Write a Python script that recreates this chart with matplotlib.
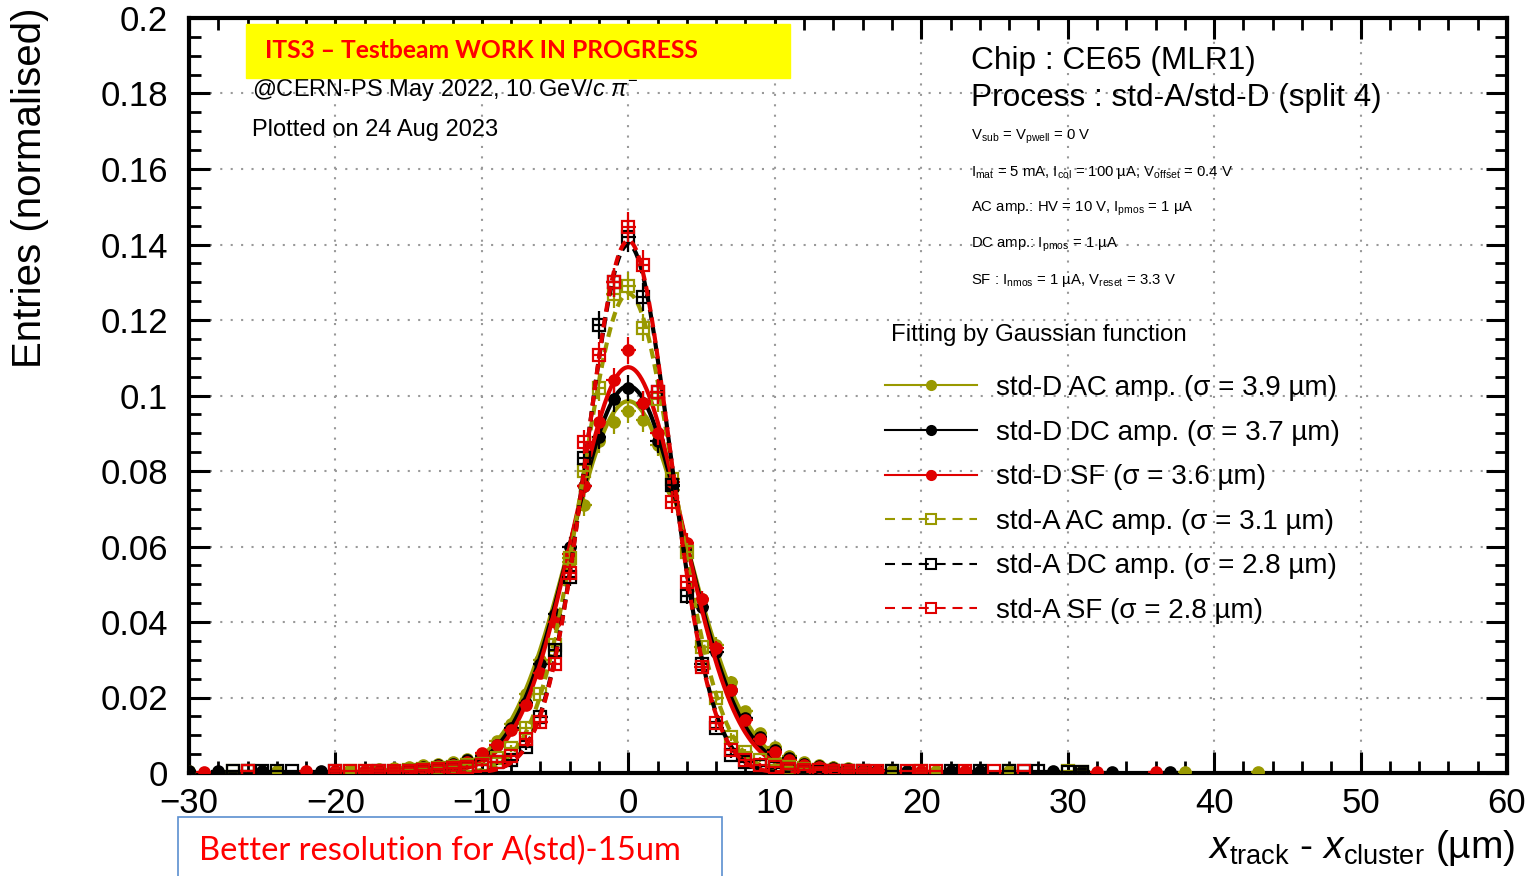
import numpy as np
import matplotlib
matplotlib.use("Agg")
import matplotlib.pyplot as plt
from matplotlib.patches import Rectangle
from matplotlib.lines import Line2D
from matplotlib.ticker import MultipleLocator, FuncFormatter

plt.rcParams['font.family'] = ['Liberation Sans', 'DejaVu Sans']
plt.rcParams['mathtext.fontset'] = 'custom'
plt.rcParams['mathtext.rm'] = 'Liberation Sans'
plt.rcParams['mathtext.it'] = 'Liberation Sans:italic'
plt.rcParams['mathtext.bf'] = 'Liberation Sans:bold'

# residual bins (um), core region
core_x = list(range(-14, 15))

# std-D (filled circles, solid fits)
d_ac = [0.0020, 0.0025, 0.0030, 0.0038, 0.0050, 0.0085, 0.0130, 0.0210, 0.0300, 0.0420,
        0.0560, 0.0710, 0.0880, 0.0930, 0.0960, 0.0935, 0.0870, 0.0750, 0.0600, 0.0460,
        0.0340, 0.0240, 0.0165, 0.0106, 0.0070, 0.0045, 0.0030, 0.0022, 0.0015]
d_dc = [0.0015, 0.0020, 0.0025, 0.0035, 0.0045, 0.0075, 0.0120, 0.0185, 0.0290, 0.0420,
        0.0600, 0.0760, 0.0890, 0.0990, 0.1020, 0.0980, 0.0880, 0.0760, 0.0600, 0.0440,
        0.0320, 0.0220, 0.0146, 0.0095, 0.0060, 0.0040, 0.0025, 0.0018, 0.0012]
d_sf = [0.0012, 0.0018, 0.0022, 0.0030, 0.0053, 0.0074, 0.0114, 0.0180, 0.0265, 0.0400,
        0.0580, 0.0760, 0.0930, 0.1040, 0.1120, 0.0980, 0.0900, 0.0770, 0.0610, 0.0460,
        0.0330, 0.0220, 0.0140, 0.0090, 0.0055, 0.0035, 0.0022, 0.0015, 0.0010]
# std-A (open squares, dashed fits)
a_ac = [0.0010, 0.0012, 0.0015, 0.0020, 0.0025, 0.0040, 0.0065, 0.0120, 0.0210, 0.0340,
        0.0570, 0.0800, 0.1020, 0.1270, 0.1290, 0.1180, 0.0990, 0.0780, 0.0585, 0.0334,
        0.0200, 0.0095, 0.0056, 0.0035, 0.0022, 0.0015, 0.0010, 0.0008, 0.0006]
a_dc = [0.0008, 0.0010, 0.0012, 0.0015, 0.0020, 0.0028, 0.0035, 0.0069, 0.0148, 0.0326,
        0.0520, 0.0834, 0.1187, 0.1300, 0.1420, 0.1260, 0.1010, 0.0763, 0.0470, 0.0290,
        0.0120, 0.0048, 0.0030, 0.0018, 0.0012, 0.0010, 0.0008, 0.0006, 0.0005]
a_sf = [0.0008, 0.0010, 0.0013, 0.0016, 0.0022, 0.0030, 0.0045, 0.0090, 0.0135, 0.0290,
        0.0530, 0.0877, 0.1107, 0.1300, 0.1446, 0.1346, 0.1010, 0.0718, 0.0506, 0.0280,
        0.0132, 0.0060, 0.0035, 0.0022, 0.0015, 0.0011, 0.0009, 0.0007, 0.0006]

# sparse far-tail bins
tail_x_d_ac = [-30, -24, -19, -17, -16, -15, 15, 16, 18, 21, 26, 38, 43]
tail_y_d_ac = [0.0004, 0.0004, 0.0008, 0.0010, 0.0012, 0.0015, 0.0012, 0.0009, 0.0006, 0.0005, 0.0004, 0.0003, 0.0003]
tail_x_d_dc = [-30, -28, -25, -21, -18, -16, -15, 15, 16, 17, 19, 22, 24, 29, 31, 33, 37]
tail_y_d_dc = [0.0004, 0.0004, 0.0004, 0.0005, 0.0006, 0.0009, 0.0011, 0.0010, 0.0008, 0.0007, 0.0005, 0.0005, 0.0004, 0.0004, 0.0004, 0.0003, 0.0003]
tail_x_d_sf = [-29, -22, -20, -18, -17, -16, -15, 15, 16, 17, 20, 23, 32, 36]
tail_y_d_sf = [0.0003, 0.0004, 0.0004, 0.0005, 0.0006, 0.0008, 0.0010, 0.0008, 0.0006, 0.0005, 0.0004, 0.0004, 0.0003, 0.0003]
tail_x_a_ac = [-27, -26, -19, -18, -16, -15, 15, 16, 18, 20, 26, 30, 31]
tail_y_a_ac = [0.0004, 0.0004, 0.0005, 0.0005, 0.0006, 0.0007, 0.0005, 0.0005, 0.0004, 0.0004, 0.0004, 0.0004, 0.0003]
tail_x_a_dc = [-27, -26, -25, -24, -23, -20, -17, -15, 15, 16, 18, 22, 24, 26, 27, 28, 30, 31]
tail_y_a_dc = [0.0004, 0.0004, 0.0004, 0.0004, 0.0004, 0.0004, 0.0005, 0.0005, 0.0004, 0.0004, 0.0004, 0.0004, 0.0004, 0.0004, 0.0004, 0.0004, 0.0003, 0.0003]
tail_x_a_sf = [-26, -20, -19, -18, -17, -16, -15, 15, 16, 17, 19, 20, 21, 23, 25, 27]
tail_y_a_sf = [0.0004, 0.0004, 0.0004, 0.0005, 0.0005, 0.0005, 0.0006, 0.0005, 0.0005, 0.0004, 0.0004, 0.0004, 0.0004, 0.0004, 0.0004, 0.0004]

# gaussian fit parameters (amplitude, mean, sigma as fitted on the histograms)
fit_amp = [0.0985, 0.1025, 0.1075, 0.1270, 0.1400, 0.1410]
fit_mean = [0.0, 0.0, 0.0, 0.0, 0.0, 0.0]
fit_sigma = [4.05, 3.88, 3.72, 3.15, 2.87, 2.85]

labels = ['std-D AC amp. (σ = 3.9 µm)', 'std-D DC amp. (σ = 3.7 µm)', 'std-D SF (σ = 3.6 µm)',
          'std-A AC amp. (σ = 3.1 µm)', 'std-A DC amp. (σ = 2.8 µm)', 'std-A SF (σ = 2.8 µm)']
n_entries = 9000  # for poisson error bars of the normalised histograms

OLIVE = '#999900'
RED = '#e00000'
colors = [OLIVE, 'black', RED, OLIVE, 'black', RED]

W, H = 1532, 876
def fx(px):
    return px / W
def fy(py):
    return 1 - py / H

fig = plt.figure(figsize=(W / 100, H / 100), dpi=100)
ax = fig.add_axes([fx(189), fy(773), fx(1507) - fx(189), fy(18) - fy(773)])

series = [(d_ac, tail_x_d_ac, tail_y_d_ac), (d_dc, tail_x_d_dc, tail_y_d_dc), (d_sf, tail_x_d_sf, tail_y_d_sf),
          (a_ac, tail_x_a_ac, tail_y_a_ac), (a_dc, tail_x_a_dc, tail_y_a_dc), (a_sf, tail_x_a_sf, tail_y_a_sf)]

xf = np.linspace(-15, 15, 600)
handles = []
for i, (core, tx, ty) in enumerate(series):
    xs = np.array(tx + core_x, dtype=float)
    ys = np.array(ty + core, dtype=float)
    err = np.sqrt(ys / n_entries)
    c = colors[i]
    is_a = i >= 3
    ax.errorbar(xs, ys, yerr=err, xerr=0.5, fmt='s' if is_a else 'o',
                ms=8.5 if is_a else 7.5, color=c, mec=c,
                mfc='none' if is_a else c, mew=1.6, elinewidth=1.6, capsize=0, zorder=3 + i)
    yfit = fit_amp[i] * np.exp(-0.5 * ((xf - fit_mean[i]) / fit_sigma[i]) ** 2)
    ax.plot(xf, yfit, color=c, lw=3, ls=(0, (2.4, 1.4)) if is_a else '-', zorder=3.5 + i)
    handles.append(Line2D([], [], color=c, lw=1.5, ls=(0, (4.8, 3.3)) if is_a else '-',
                          marker='s' if is_a else 'o', ms=7 if is_a else 6.5,
                          mfc='none' if is_a else c, mec=c, mew=1.5))

ax.set_xlim(-30, 60)
ax.set_ylim(0, 0.2)
ax.xaxis.set_major_locator(MultipleLocator(10))
ax.xaxis.set_minor_locator(MultipleLocator(2))
ax.yaxis.set_major_locator(MultipleLocator(0.02))
ax.yaxis.set_minor_locator(MultipleLocator(0.005))
ax.yaxis.set_major_formatter(FuncFormatter(lambda v, p: '%g' % round(v, 3)))
ax.tick_params(which='both', direction='in', top=True, right=True, labelsize=25)
ax.tick_params(which='major', length=15, width=2.2)
ax.tick_params(which='minor', length=8.5, width=2)
ax.tick_params(axis='x', which='major', pad=10)
ax.tick_params(axis='y', which='major', pad=15)
for s in ax.spines.values():
    s.set_linewidth(3)
ax.grid(True, which='major', color='#999999', ls=(0, (1, 4)), lw=1.5)
ax.set_axisbelow(True)

fig.text(fx(30), fy(8), 'Entries (normalised)', rotation=90, ha='center', va='top', fontsize=29)
fig.text(fx(1515), fy(848), r'$x_{\mathrm{track}}$ - $x_{\mathrm{cluster}}$ (µm)',
         ha='right', va='center', fontsize=28)

# header boxes
fig.patches.append(Rectangle((fx(246), fy(78)), fx(790) - fx(246), fy(24) - fy(78),
                             transform=fig.transFigure, color='#ffff00', zorder=5))
fig.text(fx(265), fy(51), 'ITS3 – Testbeam WORK IN PROGRESS', color='#ff0000', fontsize=17.7,
         fontweight='bold', family='Lato', ha='left', va='center', zorder=6)
fig.text(fx(252), fy(90), r'@CERN-PS May 2022, 10 GeV/$c$ $\pi^{-}$', fontsize=17, ha='left', va='center')
fig.text(fx(252), fy(130), 'Plotted on 24 Aug 2023', fontsize=17, ha='left', va='center')

fig.text(fx(971), fy(61), 'Chip : CE65 (MLR1)', fontsize=22.8, ha='left', va='center')
fig.text(fx(971), fy(98), 'Process : std-A/std-D (split 4)', fontsize=22.8, ha='left', va='center')
small = [r'V$_{\mathrm{sub}}$ = V$_{\mathrm{pwell}}$ = 0 V',
         r'I$_{\mathrm{mat}}$ = 5 mA, I$_{\mathrm{col}}$ = 100 µA, V$_{\mathrm{offset}}$ = 0.4 V',
         r'AC amp.: HV = 10 V, I$_{\mathrm{pmos}}$ = 1 µA',
         r'DC amp.: I$_{\mathrm{pmos}}$ = 1 µA',
         r'SF : I$_{\mathrm{nmos}}$ = 1 µA, V$_{\mathrm{reset}}$ = 3.3 V']
for k, t in enumerate(small):
    fig.text(fx(971), fy(137 + 35.8 * k), t, fontsize=10.7, ha='left', va='center')
fig.text(fx(891), fy(335), 'Fitting by Gaussian function', fontsize=17.3, ha='left', va='center')

ax.legend(handles, labels, loc='upper left', bbox_to_anchor=(fx(885), fy(375)),
          bbox_transform=fig.transFigure, frameon=False, fontsize=20, handlelength=3.3,
          handletextpad=0.7, labelspacing=0.67, borderpad=0, borderaxespad=0)

fig.patches.append(Rectangle((fx(178), fy(890)), fx(722) - fx(178), fy(817) - fy(890),
                             transform=fig.transFigure, facecolor='white', edgecolor='#5b8fd0',
                             lw=1.2, zorder=5))
fig.text(fx(199), fy(851), 'Better resolution for A(std)-15um', color='#ff0000', fontsize=23.6,
         family='Lato', ha='left', va='center', zorder=6)

fig.savefig('out.png', dpi=100)
